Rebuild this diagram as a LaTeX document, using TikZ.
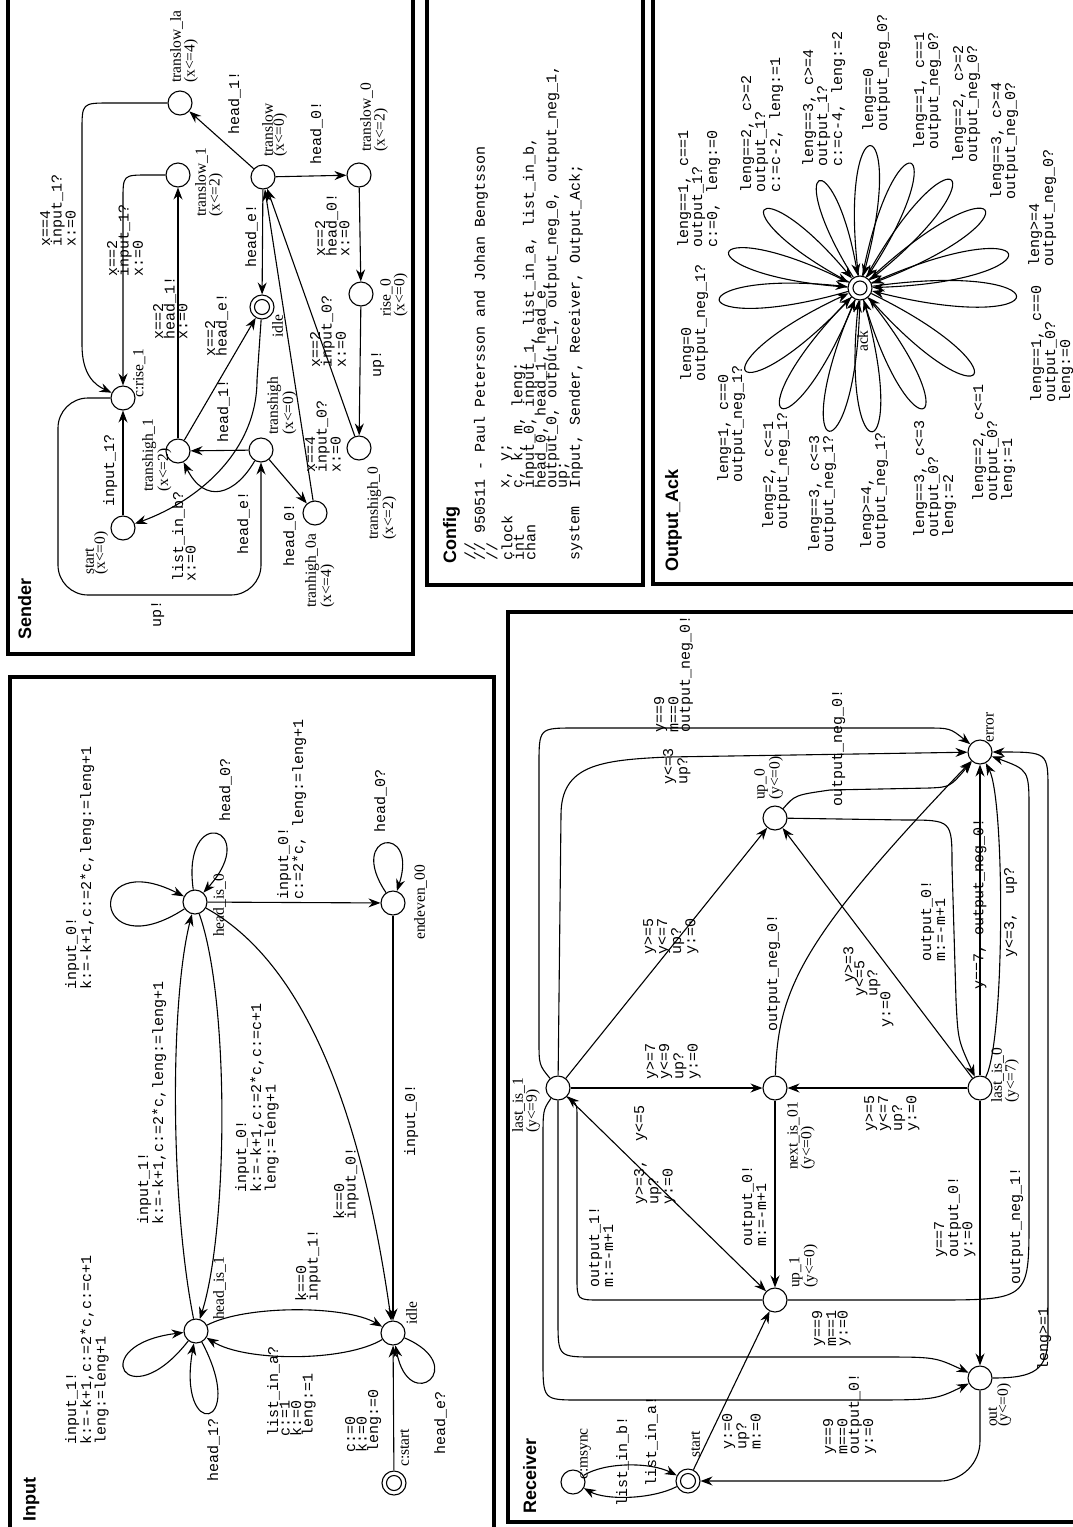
\documentclass[tikz,border=0pt]{standalone}
\usepackage{fontspec}
\usetikzlibrary{arrows.meta}
\newfontfamily\monof{Liberation Mono}
\newfontfamily\locf{Liberation Serif}
\newfontfamily\ttlf{Liberation Sans}
\newcommand\elab[4]{\node[lab] (#1) at (#2,-#3) {#4};}
\newcommand\nlab[4]{\node[nam] (#1) at (#2,-#3) {#4};}
\begin{document}
\begin{tikzpicture}[x=1pt,y=1pt,
  loc/.style={circle, draw, line width=1.1pt, minimum size=24pt, inner sep=0pt},
  edg/.style={line width=1.1pt, -{Stealth[length=12pt,width=9pt,inset=4pt]}},
  lab/.style={rotate=90, anchor=north west, inner sep=0pt, align=left, font=\monof\fontsize{15}{11.5}\selectfont},
  mlab/.style={rotate=90, anchor=west, inner sep=0pt, font=\monof\fontsize{15}{11.5}\selectfont},
  nam/.style={rotate=90, anchor=north west, inner sep=0pt, align=left, font=\locf\fontsize{15.5}{11}\selectfont},
  ttl/.style={rotate=90, anchor=north west, inner sep=0pt, font=\ttlf\bfseries\fontsize{18}{18}\selectfont},
  panel/.style={line width=3.5pt}]
\fill[white] (0,0) rectangle (1073,-1527);
\useasboundingbox (0,0) rectangle (1073,-1527);

% ================= INPUT =================
\draw[panel] (10,-677) rectangle (494,-1535);
\node[ttl] (tInput) at (23,-1522) {Input};
\node[loc] (hi1) at (196,-1331) {};
\node[loc] (idl) at (393,-1333) {};
\node[loc] (cst) at (394,-1483) {};
\draw[line width=1.1pt] (cst) circle (7.5pt);
\node[loc] (hi0) at (195,-902) {};
\node[loc] (ee) at (393,-903) {};
\nlab{nhi1}{213}{1320}{head\_is\_1}
\nlab{nhi0}{213}{937}{head\_is\_0}
\nlab{nee}{414}{940}{endeven\_00}
\nlab{nidl}{406}{1325}{idle}
\nlab{ncst}{400}{1467}{c:start}
\draw[edg] (cst) -- (idl);
\elab{a1}{345}{1453}{c:=0\\k:=0\\leng:=0}
\draw[edg] (idl) to[out=-23,in=-79,min distance=72pt] (idl);
\elab{a2}{434}{1455}{head\_e?}
\draw[edg] (hi1) .. controls (245,-1305) and (345,-1305) .. (idl);
\elab{a3}{295}{1302}{k==0\\input\_1!}
\draw[edg] (idl) .. controls (345,-1362) and (245,-1362) .. (hi1);
\elab{a4}{267}{1437}{list\_in\_a?\\c:=1\\k:=0\\leng:=1}
\draw[edg] (hi1) to[out=232,in=187,min distance=100pt] (hi1);
\elab{a5}{65}{1445}{input\_1!\\k:=-k+1,c:=2*c,c:=c+1\\leng:=leng+1}
\draw[edg] (hi1) to[out=-62,in=-100,min distance=100pt] (hi1);
\elab{a6}{207}{1482}{head\_1?}
\draw[edg] (hi1) .. controls (170,-1200) and (170,-1000) .. (hi0);
\elab{a7}{137}{1225}{input\_1!\\k:=-k+1,c:=2*c,leng:=leng+1}
\draw[edg] (hi0) .. controls (230,-1000) and (228,-1230) .. (hi1);
\elab{a8}{235}{1193}{input\_0!\\k:=-k+1,c:=2*c,c:=c+1\\leng:=leng+1}
\draw[edg] (hi0) .. controls (300,-960) and (360,-1100) .. (idl);
\elab{a9}{333}{1220}{k==0\\input\_0!}
\draw[edg] (hi0) -- (ee);
\elab{a10}{277}{900}{input\_0!\\c:=2*c, leng:=leng+1}
\draw[edg] (hi0) to[out=213,in=153,min distance=112pt] (hi0);
\elab{a11}{65}{990}{input\_0!\\k:=-k+1,c:=2*c,leng:=leng+1}
\draw[edg] (hi0) to[out=98,in=48,min distance=88pt] (hi0);
\elab{a12}{219}{822}{head\_0?}
\draw[edg] (ee) to[out=124,in=72,min distance=72pt] (ee);
\elab{a13}{374}{833}{head\_0?}
\draw[edg] (ee) -- (idl);
\elab{a14}{404}{1157}{input\_0!}

% ================= SENDER =================
\draw[panel] (8,10) rectangle (413,-654);
\node[ttl] (tSender) at (18,-640) {Sender};
\node[loc] (tla) at (180,-103) {};
\node[loc] (tl1) at (178,-175) {};
\node[loc] (tl) at (263,-177) {};
\node[loc] (tl0) at (359,-175) {};
\node[loc] (sidle) at (262,-307) {};
\draw[line width=1.1pt] (sidle) circle (7.5pt);
\node[loc] (r0) at (361,-294) {};
\node[loc] (cr1) at (123,-398) {};
\node[loc] (sst) at (123,-528) {};
\node[loc] (th1) at (178,-451) {};
\node[loc] (th) at (261,-450) {};
\node[loc] (th0a) at (315,-513) {};
\node[loc] (th0) at (359,-448) {};
\nlab{ntla}{170}{83}{translow\_la\\(x<=4)}
\nlab{ntl1}{195}{217}{translow\_1\\(x<=2)}
\nlab{ntl}{262}{157}{translow\\(x<=0)}
\nlab{ntl0}{360}{152}{translow\_0\\(x<=2)}
\nlab{nsidle}{272}{338}{idle}
\nlab{nr0}{380}{317}{rise\_0\\(x<=0)}
\nlab{ncr1}{133}{398}{c:rise\_1}
\nlab{nsst}{85}{575}{start\\(x<=0)}
\nlab{nth1}{142}{492}{transhigh\_1\\(x<=2)}
\nlab{nth}{267}{435}{transhigh\\(x<=0)}
\nlab{nth0a}{305}{608}{tranhigh\_0a\\(x<=4)}
\nlab{nth0}{367}{540}{transhigh\_0\\(x<=2)}
\draw[edg] (tl) -- (tla); \elab{s1}{228}{135}{head\_1!}
\draw[edg] (tl) -- (tl0); \elab{s2}{310}{165}{head\_0!}
\draw[edg] (tl) -- (sidle); \elab{s3}{245}{268}{head\_e!}
\draw[edg] (tl0) -- (r0); \elab{s4}{315}{257}{x==2\\head\_0!\\x:=0}
\draw[edg] (r0) -- (th0); \elab{s5}{371}{378}{up!}
\draw[edg] (th0) -- (tl); \elab{s6}{310}{368}{x==2\\input\_0?\\x:=0}
\draw[edg] (th0a) -- (tl); \elab{s7}{305}{473}{x==4\\input\_0?\\x:=0}
\draw[edg] (th) -- (th1); \elab{s8}{217}{443}{head\_1!}
\draw[edg] (th) -- (th0a); \elab{s9}{283}{567}{head\_0!}
\draw[edg] (th) .. controls (235,-495) and (205,-505) .. (th1); \elab{s10}{237}{555}{head\_e!}
\draw[edg] (th1) -- (tl1); \elab{s11}{153}{340}{x==2\\head\_1!\\x:=0}
\draw[edg] (th1) -- (sidle); \elab{s12}{205}{357}{x==2\\head\_e!}
\draw[edg] (tl1.west) -- (148,-175) .. controls (123,-175) .. (123,-200) -- (cr1);
\elab{s13}{107}{277}{x==2\\input\_1?\\x:=0}
\draw[edg] (tla.west) -- (110,-103) .. controls (82,-103) .. (82,-131) -- (82,-345) .. controls (82,-375) and (95,-385) .. (cr1);
\elab{s14}{40}{247}{x==4\\input\_1?\\x:=0}
\draw[edg] (sst) -- (cr1); \elab{s15}{103}{507}{input\_1?}
\draw[edg, rounded corners=30pt] (cr1.west) -- (58,-398) -- (58,-595) -- (261,-595) -- (th);
\elab{s16}{151}{628}{up!}
\draw[edg] (sidle) -- (257,-380) .. controls (257,-450) and (200,-500) .. (sst);
\elab{s17}{172}{582}{list\_in\_b?\\x:=0}

% ================= CONFIG =================
\draw[panel] (427,10) rectangle (643,-585);
\node[ttl] (tConfig) at (443,-564) {Config};
\node[mlab] (c1) at (470,-561) {//};
\node[mlab] (c2) at (481,-561) {// 950511 - Paul Petersson and Johan Bengtsson};
\node[mlab] (c3) at (492,-561) {//};
\node[mlab] (k1) at (507,-561) {clock};
\node[mlab] (k2) at (518.5,-561) {int};
\node[mlab] (k3) at (530,-561) {chan};
\node[mlab] (v1) at (507,-489) {x, y;};
\node[mlab] (v2) at (518.5,-489) {c, k, m, leng;};
\node[mlab] (v3) at (530,-489) {input\_0, input\_1, list\_in\_a, list\_in\_b,};
\node[mlab] (v4) at (541.5,-489) {head\_0, head\_1, head\_e,};
\node[mlab] (v5) at (553,-489) {output\_0, output\_1, output\_neg\_0, output\_neg\_1,};
\node[mlab] (v6) at (564.5,-489) {up;};
\node[mlab] (k4) at (576,-561) {system};
\node[mlab] (v7) at (576,-489) {Input, Sender, Receiver, Output\_Ack;};

% ================= OUTPUT_ACK =================
\draw[panel] (653,10) rectangle (1085,-584);
\node[ttl] (tOA) at (665,-572) {Output\_Ack};
\node[loc] (ack) at (860,-288) {};
\draw[line width=1.1pt] (ack) circle (7pt);
\nlab{nack}{857}{352}{ack}
\foreach \pa/\pl in {165/167,141/150,111/138,86/176,68/165,50/174,32/182,13/189,-3/195,-37/176,-62/167,-85/178,-102/181,-123/177,-144/174,-175/174}{
  \pgfmathsetmacro\ao{\pa+11}\pgfmathsetmacro\ai{\pa-11}
  \draw[edg] (ack) to[out=\ao,in=\ai,min distance=\pl pt] (ack);
}
\elab{o1}{680}{382}{leng=0\\output\_neg\_1?}
\elab{o2}{717}{483}{leng=1, c==0\\output\_neg\_1?}
\elab{o3}{762}{530}{leng=2, c<=1\\output\_neg\_1?}
\elab{o4}{808}{553}{leng==3, c<=3\\output\_neg\_1?}
\elab{o5}{860}{550}{leng>=4,\\output\_neg\_1?}
\elab{o6}{913}{538}{leng==3, c<=3\\output\_0?\\leng:=2}
\elab{o7}{972}{502}{leng==2, c<=1\\output\_0?\\leng:=1}
\elab{o8}{1030}{403}{leng==1, c==0\\output\_0?\\leng:=0}
\elab{o9}{1028}{267}{leng>=4\\output\_neg\_0?}
\elab{o10}{990}{200}{leng==3, c>=4\\output\_neg\_0?}
\elab{o11}{952}{163}{leng==2, c>=2\\output\_neg\_0?}
\elab{o12}{913}{150}{leng==1, c==1\\output\_neg\_0?}
\elab{o13}{862}{132}{leng==0\\output\_neg\_0?}
\elab{o14}{802}{167}{leng==3, c>=4\\output\_1?\\c:=c-4, leng:=2}
\elab{o15}{740}{193}{leng==2, c>=2\\output\_1?\\c:=c-2, leng:=1}
\elab{o16}{677}{248}{leng==1, c==1\\output\_1?\\c:=0, leng:=0}

% ================= RECEIVER =================
\draw[panel] (508,-612) rectangle (1085,-1522);
\node[ttl] (tRec) at (523,-1514) {Receiver};
\node[loc] (msync) at (573,-1482) {};
\node[loc] (rstart) at (688,-1481) {};
\draw[line width=1.1pt] (rstart) circle (7.5pt);
\node[loc] (up1) at (775,-1300) {};
\node[loc] (out) at (980,-1378) {};
\node[loc] (lastis1) at (558,-1088) {};
\node[loc] (next01) at (775,-1088) {};
\node[loc] (lastis0) at (980,-1088) {};
\node[loc] (up0) at (775,-818) {};
\node[loc] (err) at (980,-752) {};
\nlab{nmsync}{580}{1480}{c:msync}
\nlab{nrstart}{691}{1458}{start}
\nlab{nup1}{789}{1288}{up\_1\\(y<=0)}
\nlab{nout}{988}{1427}{out\\(y<=0)}
\nlab{nlast1}{512}{1133}{last\_is\_1\\(y<=9)}
\nlab{nnext}{787}{1170}{next\_is\_01\\(y<=0)}
\nlab{nlast0}{991}{1103}{last\_is\_0\\(y<=7)}
\nlab{nup0}{754}{800}{up\_0\\(y<=0)}
\nlab{nerr}{986}{743}{error}
\draw[edg] (msync) .. controls (605,-1462) and (650,-1462) .. (rstart);
\elab{r1}{616}{1507}{list\_in\_b!}
\draw[edg] (rstart) .. controls (650,-1500) and (605,-1500) .. (msync);
\elab{r2}{645}{1487}{list\_in\_a!}
\draw[edg] (rstart) -- (up1);
\elab{r3}{722}{1450}{y:=0\\up?\\m:=0}
\draw[edg, rounded corners=40pt] (out) |- (rstart);
\draw[edg] (up1) -- (600,-1300) .. controls (577,-1300) .. (577,-1277) -- (577,-1120) .. controls (577,-1105) .. (lastis1);
\elab{r5}{589}{1288}{output\_1!\\m:=-m+1}
\draw[edg] (lastis1) -- (558,-1320) .. controls (558,-1357) .. (595,-1357) -- (880,-1357) .. controls (935,-1357) .. (out);
\elab{r6}{812}{1347}{y==9\\m==1\\y:=0}
\draw[edg] (lastis1) .. controls (543,-1110) .. (543,-1140) -- (543,-1360) .. controls (543,-1400) .. (580,-1400) -- (860,-1400) .. controls (935,-1400) .. (out);
\elab{r7}{823}{1455}{y==9\\m==0\\output\_0!\\y:=0}
\draw[edg] (lastis1) .. controls (539,-1065) .. (539,-1040) -- (539,-765) .. controls (539,-728) .. (575,-728) -- (925,-728) .. controls (950,-728) .. (err);
\elab{r8}{654}{733}{y==9\\m==0\\output\_neg\_0!}
\draw[edg] (lastis1) -- (561,-815) .. controls (561,-765) and (600,-760) .. (668,-757) -- (err);
\elab{r9}{663}{785}{y<=3\\up?}
\draw[edg] (lastis1) -- (up0);
\elab{r10}{643}{955}{y>=5\\y<=7\\up?\\y:=0}
\draw[edg] (lastis1) -- (next01);
\elab{r11}{645}{1080}{y>=7\\y<=9\\up?\\y:=0}
\draw[edg] (lastis1) -- (up1);
\elab{r12}{634}{1205}{y>=3,~~y<=5\\up?\\y:=0}
\draw[edg] (next01) -- (up1);
\elab{r13}{742}{1247}{output\_0!\\m:=-m+1}
\draw[edg] (next01) .. controls (778,-990) and (800,-940) .. (err);
\elab{r14}{767}{1032}{output\_neg\_0!}
\draw[edg] (lastis0) -- (next01);
\elab{r15}{864}{1132}{y>=5\\y<=7\\up?\\y:=0}
\draw[edg] (lastis0) -- (up0);
\node[mlab] (r16a) at (850,-983) {y>=3};
\node[mlab] (r16b) at (861,-997) {y<=5};
\node[mlab] (r16c) at (874,-997) {up?};
\node[mlab] (r16d) at (887,-1028) {y:=0};
\draw[edg] (lastis0) -- (err);
\node[mlab] (r17) at (980,-990) {y==7, output\_neg\_0!};
\draw[edg] (lastis0) .. controls (1005,-1040) and (1005,-800) .. (err);
\elab{r18}{1004}{958}{y<=3,~~up?}
\draw[edg] (lastis0) -- (out);
\elab{r19}{934}{1258}{y==7\\output\_0!\\y:=0}
\draw[edg] (up1) -- (930,-1300) .. controls (1029,-1300) .. (1029,-1220) -- (1029,-810) .. controls (1029,-770) .. (err);
\elab{r20}{1010}{1285}{output\_neg\_1!}
\draw[edg] (out) .. controls (1035,-1378) and (1048,-1370) .. (1048,-1335) -- (1048,-790) .. controls (1048,-752) .. (err);
\elab{r21}{1037}{1371}{leng>=1}
\draw[edg] (up0) -- (905,-820) .. controls (952,-820) .. (952,-865) -- (956,-1000) .. controls (958,-1040) .. (lastis0);
\elab{r22}{921}{962}{output\_0!\\m:=-m+1}
\draw[edg] (up0) .. controls (795,-795) .. (830,-790) -- (930,-788) .. controls (950,-787) .. (err);
\elab{r23}{832}{807}{output\_neg\_0!}
\end{tikzpicture}
\end{document}
